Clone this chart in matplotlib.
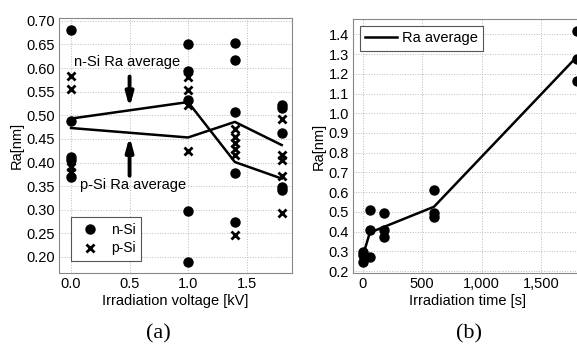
import matplotlib
matplotlib.use('Agg')
from matplotlib import pyplot as plt
import numpy as np

plt.rcParams['font.family'] = ['Liberation Sans', 'DejaVu Sans']
plt.rcParams['font.size'] = 10

# (a) Ra vs irradiation voltage
n_si_v = [0.0] * 5 + [1.0] * 5 + [1.4] * 5 + [1.8] * 5
n_si_ra = [0.68, 0.488, 0.412, 0.405, 0.370,
           0.651, 0.594, 0.533, 0.298, 0.189,
           0.653, 0.617, 0.508, 0.377, 0.273,
           0.522, 0.515, 0.463, 0.349, 0.342]
p_si_v = [0.0] * 4 + [1.0] * 4 + [1.4] * 6 + [1.8] * 5
p_si_ra = [0.583, 0.555, 0.390, 0.380,
           0.582, 0.554, 0.522, 0.425,
           0.470, 0.455, 0.442, 0.428, 0.416, 0.247,
           0.492, 0.416, 0.406, 0.372, 0.294]
avg_v = [0.0, 1.0, 1.4, 1.8]
avg_upper = [0.493, 0.528, 0.401, 0.366]
avg_lower = [0.473, 0.453, 0.486, 0.437]

# (b) Ra vs irradiation time
t_pts = [0] * 3 + [60] * 3 + [180] * 3 + [600] * 3 + [1800] * 3
ra_pts = [0.298, 0.281, 0.247,
          0.509, 0.408, 0.269,
          0.492, 0.408, 0.371,
          0.611, 0.492, 0.475,
          1.417, 1.273, 1.165]
t_avg = [0, 60, 180, 600, 1800]
ra_avg = [0.275, 0.395, 0.424, 0.526, 1.285]

W, H = 577, 354
fig = plt.figure(figsize=(W / 100, H / 100), dpi=100)


def px_axes(l, t, r, b):
    return fig.add_axes([l / W, 1 - b / H, (r - l) / W, (b - t) / H])


def style(ax):
    for s in ax.spines.values():
        s.set_color('#888888')
        s.set_linewidth(0.8)
    ax.grid(True, color='#bbbbbb', linestyle=':', linewidth=0.7)
    ax.set_axisbelow(True)
    ax.tick_params(length=0, pad=3, labelsize=10.5)


arrow = dict(arrowstyle='-|>,head_width=0.22,head_length=0.8',
             color='black', lw=2.8, shrinkA=0, shrinkB=0)

ax1 = px_axes(59, 18, 292, 273)
style(ax1)
ax1.plot(n_si_v, n_si_ra, 'o', color='black', ms=6.5, label='n-Si', clip_on=False)
ax1.plot(p_si_v, p_si_ra, 'x', color='black', ms=5.5, mew=2, label='p-Si', clip_on=False)
ax1.plot(avg_v, avg_upper, '-', color='black', lw=1.8)
ax1.plot(avg_v, avg_lower, '-', color='black', lw=1.8)
ax1.set_xlim(-0.103, 1.888)
ax1.set_ylim(0.166, 0.706)
ax1.set_xticks([0.0, 0.5, 1.0, 1.5])
ax1.set_xticklabels(['0.0', '0.5', '1.0', '1.5'])
ax1.set_yticks(np.arange(0.20, 0.701, 0.05))
ax1.set_yticklabels([f'{v:.2f}' for v in np.arange(0.20, 0.701, 0.05)])
ax1.set_xlabel('Irradiation voltage [kV]', labelpad=2, fontsize=10.5)
ax1.set_ylabel('Ra[nm]', labelpad=2, fontsize=10.5)
ax1.annotate('', xy=(0.5, 0.516), xytext=(0.5, 0.582), arrowprops=arrow)
ax1.annotate('', xy=(0.5, 0.455), xytext=(0.5, 0.372), arrowprops=arrow)
ax1.text(0.48, 0.612, 'n-Si Ra average', ha='center', va='center', fontsize=10.5)
ax1.text(0.53, 0.352, 'p-Si Ra average', ha='center', va='center', fontsize=10.5)
leg1 = ax1.legend(loc='lower left', fancybox=False, framealpha=1,
                  edgecolor='#555555', borderpad=0.4, handletextpad=0.5,
                  labelspacing=0.35, bbox_to_anchor=(0.02, 0.02), fontsize=10)
leg1.get_frame().set_linewidth(0.8)

ax2 = px_axes(353, 19, 582.5, 273)
style(ax2)
ax2.plot(t_pts, ra_pts, 'o', color='black', ms=6.5, clip_on=False)
ax2.plot(t_avg, ra_avg, '-', color='black', lw=1.8, label='Ra average')
ax2.set_xlim(-82, 1850)
ax2.set_ylim(0.19, 1.478)
ax2.set_xticks([0, 500, 1000, 1500])
ax2.set_xticklabels(['0', '500', '1,000', '1,500'])
ax2.set_yticks(np.arange(0.2, 1.41, 0.1))
ax2.set_yticklabels([f'{v:.1f}' for v in np.arange(0.2, 1.41, 0.1)])
ax2.set_xlabel('Irradiation time [s]', labelpad=2, fontsize=10.5)
ax2.set_ylabel('Ra[nm]', labelpad=2, fontsize=10.5)
leg2 = ax2.legend(loc='upper left', fancybox=False, framealpha=1,
                  edgecolor='#555555', borderpad=0.35, handletextpad=0.3,
                  handlelength=2.2, fontsize=10.5)
leg2.get_frame().set_linewidth(0.8)

fig.text(158 / W, 1 - 334 / H, '(a)', ha='center', va='center',
         family='Liberation Serif', fontsize=16)
fig.text(469 / W, 1 - 334 / H, '(b)', ha='center', va='center',
         family='Liberation Serif', fontsize=16)

fig.savefig('out.png', dpi=100)
